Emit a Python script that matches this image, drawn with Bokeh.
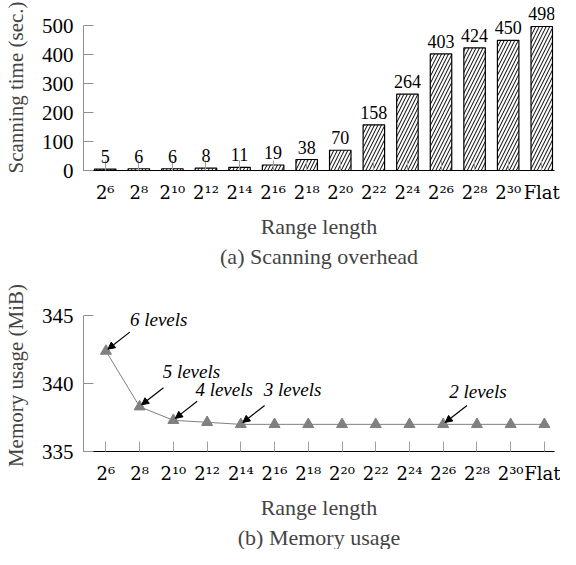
from bokeh.plotting import figure
from bokeh.layouts import column
from bokeh.models import (Range1d, FixedTicker, LabelSet, ColumnDataSource, Label,
                          Arrow, NormalHead, Title)
from bokeh.embed import file_html
from bokeh.resources import INLINE

# ---------------- data ----------------
tick_labels = ["2⁶", "2⁸", "2¹⁰", "2¹²", "2¹⁴", "2¹⁶", "2¹⁸", "2²⁰",
               "2²²", "2²⁴", "2²⁶", "2²⁸", "2³⁰", "Flat"]
scan_time = [5, 6, 6, 8, 11, 19, 38, 70, 158, 264, 403, 424, 450, 498]
memory = [342.4, 338.3, 337.3, 337.15, 337.0, 337.0, 337.0, 337.0,
          337.0, 337.0, 337.0, 337.0, 337.0, 337.0]
level_text = ["6 levels", "5 levels", "4 levels", "3 levels", "2 levels"]
level_at = [0, 1, 2, 4, 10]
scan_yticks = [0, 100, 200, 300, 400, 500]
mem_yticks = [335, 340, 345]

FONT = "Liberation Serif"
TICKFONT = "DejaVu Serif"
xs = list(range(len(tick_labels)))
overrides = {i: t for i, t in enumerate(tick_labels)}


def style(p, ylabel, yticks, ybounds):
    p.xgrid.visible = False
    p.ygrid.visible = False
    p.outline_line_color = None
    p.background_fill_color = "white"
    p.border_fill_color = "white"
    xa, ya = p.xaxis[0], p.yaxis[0]
    xa.ticker = FixedTicker(ticks=xs)
    xa.major_label_overrides = overrides
    xa.minor_tick_line_color = None
    xa.major_tick_in = 10
    xa.major_tick_out = 0
    xa.major_tick_line_color = "#a0a0a0"
    xa.axis_line_color = "black"
    xa.axis_line_width = 1.2
    xa.major_label_text_font = TICKFONT
    xa.major_label_text_font_size = "18px"
    xa.major_label_text_color = "black"
    xa.major_label_standoff = 11
    xa.axis_label = "Range length"
    xa.axis_label_text_font = FONT
    xa.axis_label_text_font_size = "22px"
    xa.axis_label_text_font_style = "normal"
    xa.axis_label_standoff = 8
    ya.ticker = FixedTicker(ticks=yticks)
    ya.bounds = ybounds
    ya.minor_tick_line_color = None
    ya.major_tick_in = 10
    ya.major_tick_out = 0
    ya.major_tick_line_color = "#909090"
    ya.axis_line_color = "#909090"
    ya.major_label_text_font = FONT
    ya.major_label_text_font_size = "21px"
    ya.major_label_text_color = "black"
    ya.major_label_standoff = 10
    ya.axis_label = ylabel
    ya.axis_label_text_font = FONT
    ya.axis_label_text_font_size = "21px"
    ya.axis_label_text_font_style = "normal"
    ya.axis_label_standoff = 11


# ---------------- (a) scanning overhead ----------------
p1 = figure(width=560, height=276, output_backend="svg", toolbar_location=None,
            x_range=Range1d(-0.647, 13.38), y_range=Range1d(0, 574),
            min_border_left=82, min_border_right=1, min_border_top=4,
            min_border_bottom=106)
style(p1, "Scanning time (sec.)", scan_yticks, (0, 500))
src1 = ColumnDataSource(dict(x=xs, y=scan_time, t=[str(v) for v in scan_time]))
p1.vbar(x="x", top="y", bottom=0, width=0.64, source=src1,
        fill_color="white", line_color="black", line_width=1.2,
        hatch_pattern="/", hatch_color="black", hatch_scale=7, hatch_weight=1)
p1.add_layout(LabelSet(x="x", y="y", text="t", source=src1, text_align="center",
                       text_baseline="alphabetic", y_offset=6,
                       text_font=FONT, text_font_size="18px", text_color="black"))
p1.add_layout(Title(text="(a) Scanning overhead", align="center",
                    text_font=FONT, text_font_size="22px",
                    text_font_style="normal", standoff=0), "below")

# ---------------- (b) memory usage ----------------
p2 = figure(width=560, height=273, output_backend="svg", toolbar_location=None,
            x_range=Range1d(-0.665, 13.3), y_range=Range1d(335, 346.2),
            min_border_left=79, min_border_right=6, min_border_top=23,
            min_border_bottom=89)
style(p2, "Memory usage (MiB)", mem_yticks, (335, 345))
p2.line(xs, memory, line_color="#808080", line_width=1)
p2.scatter(xs, memory, marker="triangle", size=11,
           fill_color="#808080", line_color="#808080")

px_x = 34.0    # pixels per category
px_y = 14.33   # pixels per MiB
text_dx = [24, 23, 22, 23, 6]
text_dy = [32, 35, 31, 35, 33]
for lbl, i, dx, dy in zip(level_text, level_at, text_dx, text_dy):
    p2.add_layout(Label(x=i, y=memory[i], x_offset=dx, y_offset=dy, text=lbl,
                        text_font=FONT, text_font_size="19px",
                        text_font_style="italic", text_baseline="alphabetic",
                        text_color="black"))
    p2.add_layout(Arrow(end=NormalHead(size=7, fill_color="black", line_color="black"),
                        x_start=i + 24 / px_x, y_start=memory[i] + 20 / px_y,
                        x_end=i + 2 / px_x, y_end=memory[i] + 2 / px_y,
                        line_color="black", line_width=1.2))
p2.add_layout(Title(text="(b) Memory usage", align="center",
                    text_font=FONT, text_font_size="22px",
                    text_font_style="normal", standoff=0), "below")

layout = column(p1, p2, spacing=0)
open("out.html", "w").write(file_html(layout, INLINE))
